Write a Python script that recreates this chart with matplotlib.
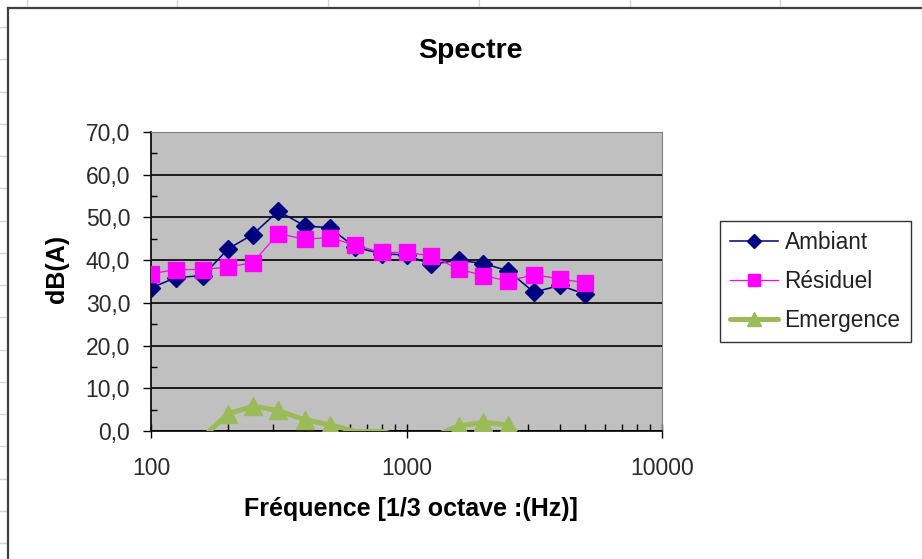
"""Spectre 1/3 octave : ambiant, résiduel, émergence."""
import numpy as np
import matplotlib
matplotlib.use('Agg')
import matplotlib.pyplot as plt
from matplotlib.lines import Line2D
from matplotlib.ticker import FixedLocator, FuncFormatter, NullFormatter

plt.rcParams['font.family'] = ['Liberation Sans', 'DejaVu Sans']

# ── données ──
FREQ = [100, 125, 160, 200, 250, 315, 400, 500, 630, 800,
        1000, 1250, 1600, 2000, 2500, 3150, 4000, 5000]
AMBIANT = [33.5, 35.9, 36.4, 42.6, 46.0, 51.5, 48.0, 47.6, 43.0, 41.5,
           41.2, 39.0, 40.0, 39.2, 37.5, 32.5, 34.1, 32.0]
RESIDUEL = [36.8, 37.8, 37.8, 38.4, 39.4, 46.2, 44.9, 45.3, 43.5, 41.8,
            41.8, 41.0, 37.9, 36.4, 35.1, 36.6, 35.6, 34.7]
EMERGENCE = [-3.3, -1.9, -1.4, 4.0, 5.8, 4.8, 2.6, 1.5, -0.1, -0.1,
             -1.5, -1.5, 1.2, 2.0, 1.4, -4.1, -1.5, -2.7]
Y_TICKS = [0, 10, 20, 30, 40, 50, 60, 70]
X_TICKS = [100, 1000, 10000]

W, H = 922, 559


def fx(px):
    return px / W


def fy(py):
    return 1 - py / H


def main():
    fig = plt.figure(figsize=(W / 100, H / 100), dpi=100)

    # ── fond tableur + cadre du graphique ──
    grid_c = '#d4d4d4'
    for x in [27, 177, 328, 479, 630, 780]:
        fig.add_artist(Line2D([fx(x), fx(x)], [fy(0), fy(8)], color=grid_c, lw=1))
    for i in range(17):
        y = 27 + i * 32.25
        fig.add_artist(Line2D([fx(0), fx(8)], [fy(y), fy(y)], color=grid_c, lw=1))
    fig.add_artist(Line2D([fx(8), fx(W)], [fy(8), fy(8)], color='#404040', lw=1.6))
    fig.add_artist(Line2D([fx(8), fx(8)], [fy(8), fy(H)], color='#404040', lw=1.6))

    ax = fig.add_axes([fx(151), fy(431), fx(662 - 151), (431 - 132) / H])
    ax.set_facecolor('#c0c0c0')

    ax.plot(FREQ, AMBIANT, color='#000080', lw=1.1, marker='D', ms=9,
            mfc='#000080', mec='#000080', label='Ambiant', zorder=3)
    ax.plot(FREQ, RESIDUEL, color='#ff00ff', lw=0.9, marker='s', ms=11,
            mfc='#ff00ff', mec='#ff00ff', label='Résiduel', zorder=4)
    # Excel ne dessine pas les marqueurs hors échelle
    shown = [i for i, v in enumerate(EMERGENCE) if v >= 0]
    ax.plot(FREQ, EMERGENCE, color='#9bbb59', lw=3.6, marker='^', ms=12.5,
            mfc='#9bbb59', mec='#9bbb59', markevery=shown,
            solid_joinstyle='round', solid_capstyle='round',
            label='Emergence', zorder=5)

    ax.set_xscale('log')
    ax.set_xlim(100, 10000)
    ax.set_ylim(0, 70)

    ax.xaxis.set_major_locator(FixedLocator(X_TICKS))
    ax.xaxis.set_major_formatter(FuncFormatter(lambda v, p: f'{v:.0f}'))
    ax.xaxis.set_minor_formatter(NullFormatter())
    ax.yaxis.set_major_locator(FixedLocator(Y_TICKS))
    ax.yaxis.set_minor_locator(FixedLocator([v + 5 for v in Y_TICKS[:-1]]))
    ax.yaxis.set_major_formatter(FuncFormatter(lambda v, p: f'{v:.1f}'.replace('.', ',')))

    ax.tick_params(axis='x', which='major', direction='inout', length=10,
                   width=1, pad=14, labelsize=16.5, labelcolor='#2a2a2a')
    ax.tick_params(axis='x', which='minor', direction='in', length=5, width=1)
    ax.tick_params(axis='y', which='major', direction='out', length=6,
                   width=1, pad=9, labelsize=16.5, labelcolor='#2a2a2a')
    ax.tick_params(axis='y', which='minor', direction='in', length=4.5, width=1)

    ax.grid(True, axis='y', which='major', color='black', lw=1.2)
    ax.get_ygridlines()[-1].set_visible(False)
    ax.set_axisbelow(True)

    for s in ['left', 'bottom']:
        ax.spines[s].set_color('black')
        ax.spines[s].set_linewidth(1.2)
    for s in ['top', 'right']:
        ax.spines[s].set_color('#808080')
        ax.spines[s].set_linewidth(0.8)

    ax.set_xlabel('Fréquence [1/3 octave :(Hz)]', fontsize=18, fontweight='bold',
                  va='center')
    ax.xaxis.set_label_coords((411 - 151) / 511, (431 - 509) / 299)
    ax.set_ylabel('dB(A)', fontsize=18, fontweight='bold', va='center')
    ax.yaxis.set_label_coords((57 - 151) / 511, (431 - 269) / 299)

    fig.suptitle('Spectre', x=fx(470), y=fy(51), va='center',
                 fontsize=20.5, fontweight='bold')

    leg = ax.legend(loc='upper left', bbox_to_anchor=(fx(720), fy(221)),
                    bbox_transform=fig.transFigure, borderaxespad=0,
                    fontsize=16.3, frameon=True, fancybox=False, shadow=False,
                    handlelength=2.1, handletextpad=0.3, labelspacing=0.7,
                    borderpad=0.45, markerscale=0.75)
    leg.get_frame().set_edgecolor('black')
    leg.get_frame().set_linewidth(1.0)
    for t in leg.get_texts():
        t.set_color('#222222')

    fig.savefig('out.png', dpi=100)
    plt.close(fig)


if __name__ == '__main__':
    main()
